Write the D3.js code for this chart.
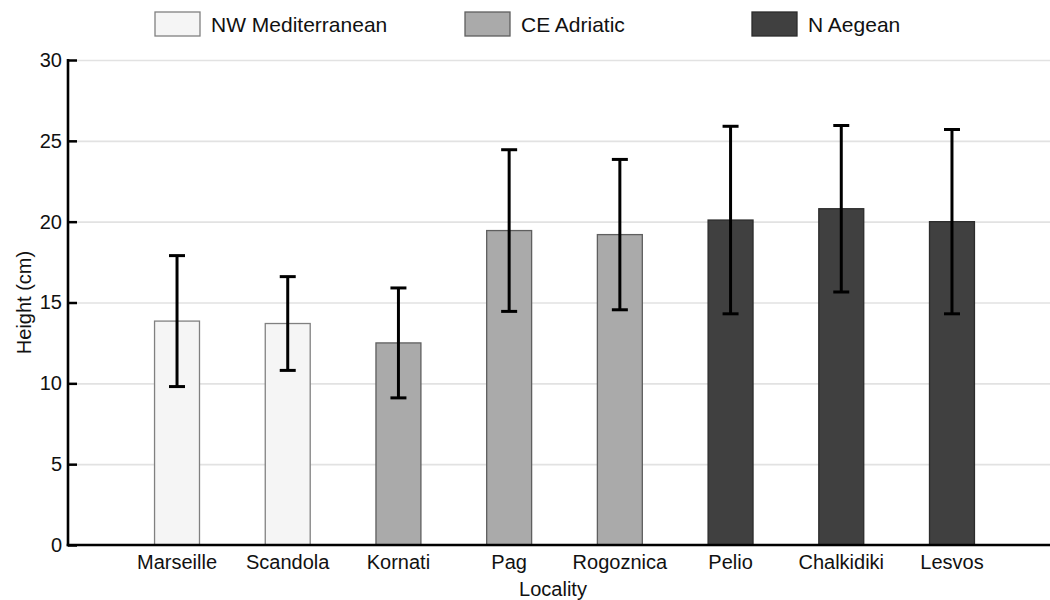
<!DOCTYPE html>
<html>
<head>
<meta charset="utf-8">
<script src="https://cdn.jsdelivr.net/npm/d3@7"></script>
<style>
  html, body { margin: 0; padding: 0; background: #ffffff; }
  svg { display: block; font-family: "Liberation Sans", Arial, sans-serif; }
</style>
</head>
<body>
<svg id="chart" width="1050" height="600"></svg>
<script>
// Mean shoot height per locality with its spread
const localities = ["Marseille", "Scandola", "Kornati", "Pag", "Rogoznica", "Pelio", "Chalkidiki", "Lesvos"];
const localityRegion = ["NW Mediterranean", "NW Mediterranean", "CE Adriatic", "CE Adriatic", "CE Adriatic", "N Aegean", "N Aegean", "N Aegean"];
const meanHeight = [13.85, 13.7, 12.5, 19.45, 19.2, 20.1, 20.8, 20.0];
const errorHeight = [4.05, 2.9, 3.4, 5.0, 4.65, 5.8, 5.15, 5.7];
const regionNames = ["NW Mediterranean", "CE Adriatic", "N Aegean"];
const yTicks = [0, 5, 10, 15, 20, 25, 30];

const regionFill = d3.scaleOrdinal().domain(regionNames).range(["#f5f5f5", "#aaaaaa", "#404040"]);
const regionStroke = d3.scaleOrdinal().domain(regionNames).range(["#808080", "#5f5f5f", "#2c2c2c"]);

const rows = localities.map((name, i) => ({
  name, region: localityRegion[i], mean: meanHeight[i], err: errorHeight[i]
}));

const svg = d3.select("#chart");
const plot = { left: 68, right: 1050, top: 60, bottom: 545 };
const fontSize = 20;

const x = d3.scaleBand()
  .domain(localities)
  .range([122, 1007])
  .paddingInner(0.594)
  .paddingOuter(0.294);

const y = d3.scaleLinear().domain([0, 30]).range([plot.bottom, plot.top]);

// Horizontal grid lines
const grid = svg.append("g")
  .attr("transform", `translate(${plot.left},0)`)
  .call(d3.axisLeft(y).tickValues(yTicks).tickSize(-(plot.right - plot.left)).tickFormat(""));
grid.select(".domain").remove();
grid.selectAll(".tick line").attr("stroke", "#e2e2e2").attr("stroke-width", 1.6);

// Bars
svg.append("g").selectAll("rect")
  .data(rows)
  .join("rect")
  .attr("x", d => x(d.name))
  .attr("y", d => y(d.mean))
  .attr("width", x.bandwidth())
  .attr("height", d => y(0) - y(d.mean))
  .attr("fill", d => regionFill(d.region))
  .attr("stroke", d => regionStroke(d.region))
  .attr("stroke-width", 1.3);

// Error bars
const capHalf = 8;
const eb = svg.append("g").attr("stroke", "#000").attr("stroke-width", 3).attr("fill", "none");
rows.forEach(d => {
  const cx = x(d.name) + x.bandwidth() / 2;
  const top = y(d.mean + d.err), bot = y(d.mean - d.err);
  eb.append("line").attr("x1", cx).attr("x2", cx).attr("y1", top).attr("y2", bot);
  eb.append("line").attr("x1", cx - capHalf).attr("x2", cx + capHalf).attr("y1", top).attr("y2", top);
  eb.append("line").attr("x1", cx - capHalf).attr("x2", cx + capHalf).attr("y1", bot).attr("y2", bot);
});

// Y axis with inward ticks
const yAxis = svg.append("g")
  .attr("transform", `translate(${plot.left},0)`)
  .call(d3.axisLeft(y).tickValues(yTicks).tickSize(-9).tickPadding(6));
yAxis.select(".domain").remove();
yAxis.selectAll(".tick line").attr("stroke", "#000").attr("stroke-width", 2.5);
yAxis.selectAll(".tick text")
  .attr("fill", "#111")
  .style("font-size", fontSize + "px")
  .style("font-family", "'Liberation Sans', Arial, sans-serif");
svg.append("line")
  .attr("x1", plot.left).attr("x2", plot.left)
  .attr("y1", plot.top - 1).attr("y2", plot.bottom + 1.25)
  .attr("stroke", "#000").attr("stroke-width", 2.6);

// X axis
const xAxis = svg.append("g")
  .attr("transform", `translate(0,${plot.bottom})`)
  .call(d3.axisBottom(x).tickSize(0).tickPadding(10));
xAxis.select(".domain").remove();
xAxis.selectAll(".tick text")
  .attr("fill", "#111")
  .style("font-size", fontSize + "px")
  .style("font-family", "'Liberation Sans', Arial, sans-serif");
svg.append("line")
  .attr("x1", plot.left - 1.3).attr("x2", plot.right)
  .attr("y1", plot.bottom).attr("y2", plot.bottom)
  .attr("stroke", "#000").attr("stroke-width", 2.6);

// Axis titles
svg.append("text")
  .attr("x", 553)
  .attr("y", 596)
  .attr("text-anchor", "middle")
  .attr("fill", "#111")
  .style("font-size", fontSize + "px")
  .text("Locality");

svg.append("text")
  .attr("transform", `translate(31,${(plot.top + plot.bottom) / 2}) rotate(-90)`)
  .attr("text-anchor", "middle")
  .attr("fill", "#111")
  .style("font-size", fontSize + "px")
  .text("Height (cm)");

// Legend
const legendX = [155, 465, 752];
const legend = svg.append("g").selectAll("g")
  .data(regionNames)
  .join("g")
  .attr("transform", (d, i) => `translate(${legendX[i]},12)`);
legend.append("rect")
  .attr("width", 45).attr("height", 24)
  .attr("fill", d => regionFill(d))
  .attr("stroke", d => regionStroke(d))
  .attr("stroke-width", 1.3);
legend.append("text")
  .attr("x", 56).attr("y", 20)
  .attr("fill", "#111")
  .style("font-size", "21px")
  .text(d => d);
</script>
</body>
</html>
